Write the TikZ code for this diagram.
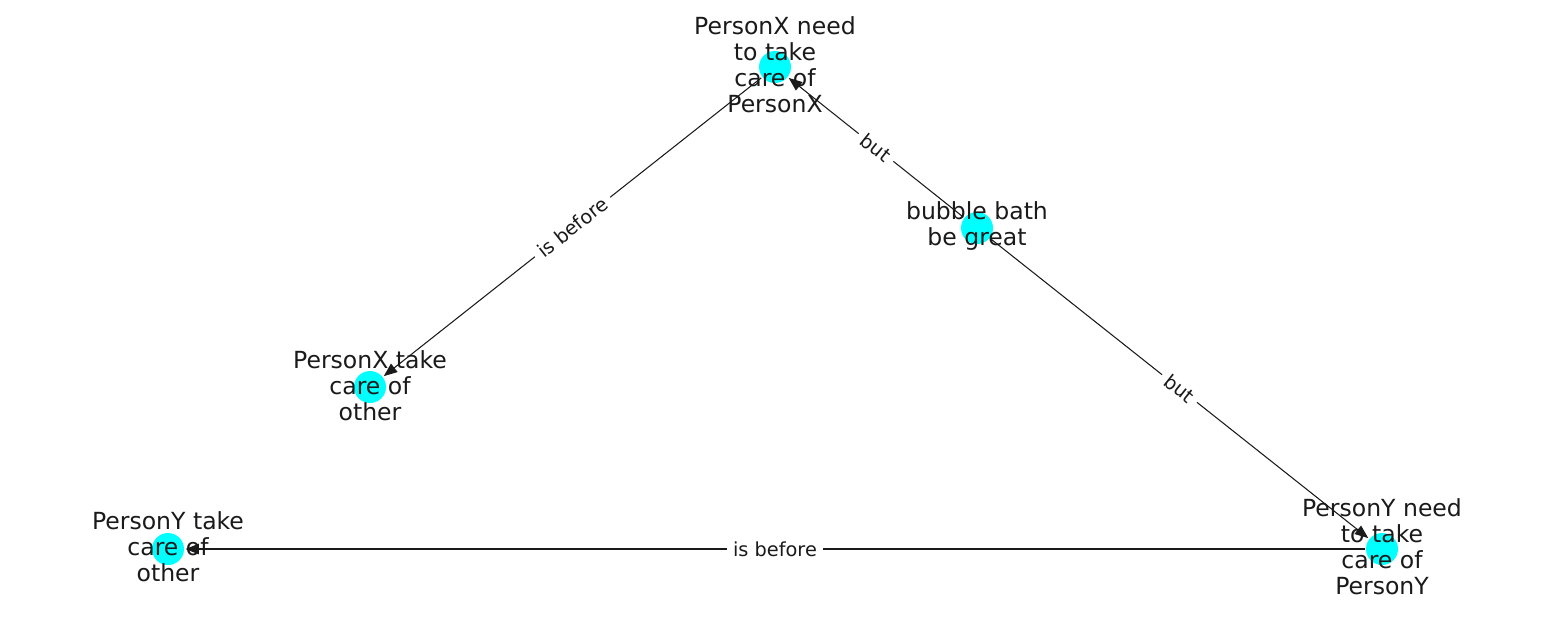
\documentclass[tikz,border=0pt]{standalone}
\usepackage{fontspec}
\setmainfont{DejaVu Sans}
\usetikzlibrary{arrows.meta}
\definecolor{txt}{HTML}{1A1A1A}
\definecolor{nodecyan}{HTML}{00FFFF}
\begin{document}
\begin{tikzpicture}[x=0.02cm,y=-0.02cm,
  dot/.style={circle,fill=nodecyan,draw=none,inner sep=0pt,minimum size=0.64cm,outer sep=0.03cm},
  nlabel/.style={align=center,text=txt,inner sep=0pt,font=\fontsize{13.4}{14.8}\selectfont},
  elabel/.style={fill=white,text=txt,sloped,inner sep=0.12cm,font=\fontsize{11}{13}\selectfont},
  edge/.style={draw=txt,line width=0.6pt,-{Triangle[length=0.27cm,width=0.21cm]}}]
\useasboundingbox (0,0) rectangle (1550,616);
\node[dot] (A) at (775,67) {};
\node[dot] (B) at (977,228) {};
\node[dot] (C) at (370,387) {};
\node[dot] (D) at (168,549) {};
\node[dot] (E) at (1382,549) {};
\draw[edge] (A) -- node[elabel] (l1) {is before} (C);
\draw[edge] (B) -- node[elabel] (l2) {but} (A);
\draw[edge] (B) -- node[elabel] (l3) {but} (E);
\draw[edge] (E) -- node[elabel] (l4) {is before} (D);
\node[nlabel] (At) at (775,65) {PersonX need\\to take\\care of\\PersonX};
\node[nlabel] (Bt) at (977,226) {bubble bath\\be great};
\node[nlabel] (Ct) at (370,386) {PersonX take\\care of\\other};
\node[nlabel] (Dt) at (168,547) {PersonY take\\care of\\other};
\node[nlabel] (Et) at (1382,547) {PersonY need\\to take\\care of\\PersonY};
\end{tikzpicture}
\end{document}
